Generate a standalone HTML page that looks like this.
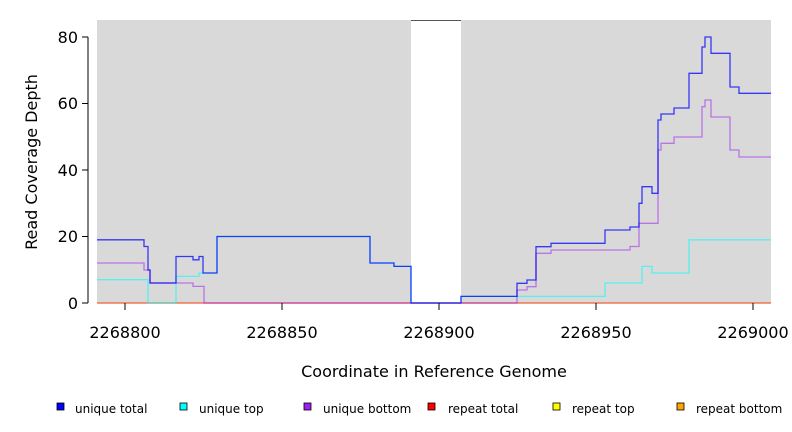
<!DOCTYPE html><html><head><style>body{margin:0;background:#fff}svg{display:block;font-family:"DejaVu Sans","Liberation Sans",sans-serif}</style></head><body>
<svg width="792" height="432" viewBox="0 0 792 432">
<rect x="97" y="20" width="674" height="283" fill="#d9d9d9"/>
<rect x="411" y="21" width="50" height="282" fill="#fff"/>
<line x1="411" y1="20.5" x2="461" y2="20.5" stroke="#555" stroke-width="1"/>
<g fill="none" stroke-width="1.3">
<polyline stroke="#ff8c00" points="97,303 771,303"/>
<polyline stroke="#e05080" stroke-opacity="0.6" points="97,303 771,303"/>
<polyline stroke="#00ffff" stroke-opacity="0.6" points="97,279.7 148,279.7 148,303 176,303 176,276.4 199,276.4 199,273 217,273 217,236.5 370,236.5 370,263 394,263 394,266.4 411,266.4 411,303 461,303 461,296.4 605,296.4 605,283 642,283 642,266.4 652,266.4 652,273 689,273 689,239.8 771,239.8"/>
<polyline stroke="#a020f0" stroke-opacity="0.55" points="97,263 144,263 144,270 150,270 150,283 193,283 193,286.4 204,286.4 204,303 517,303 517,290 527,290 527,286.7 536,286.7 536,253.3 551,253.3 551,250 630,250 630,246.5 639,246.5 639,223.3 658,223.3 658,150 661,150 661,143.3 674,143.3 674,137 702,137 702,106.7 705,106.7 705,100 711,100 711,117 730,117 730,150 739,150 739,157 771,157"/>
<polyline stroke="#0000ff" stroke-opacity="0.75" points="97,239.8 144,239.8 144,246.5 148,246.5 148,270 150,270 150,283 176,283 176,256.5 193,256.5 193,259.8 199,259.8 199,256.5 203,256.5 203,273 217,273 217,236.5 370,236.5 370,263 394,263 394,266.4 411,266.4 411,303 461,303 461,296.4 517,296.4 517,283.3 527,283.3 527,280 536,280 536,246.7 551,246.7 551,243.3 605,243.3 605,230 630,230 630,227 639,227 639,203.3 642,203.3 642,186.7 652,186.7 652,193.3 658,193.3 658,120 661,120 661,114 674,114 674,108 689,108 689,73.3 702,73.3 702,47 705,47 705,37 711,37 711,53.3 730,53.3 730,87 739,87 739,93.3 771,93.3"/>
</g>
<g stroke="#000" stroke-width="1">
<line x1="88" y1="37" x2="88" y2="303"/>
<line x1="82" y1="303" x2="88" y2="303"/><line x1="82" y1="236.5" x2="88" y2="236.5"/><line x1="82" y1="170" x2="88" y2="170"/><line x1="82" y1="103.5" x2="88" y2="103.5"/><line x1="82" y1="37" x2="88" y2="37"/>
<line x1="125" y1="303" x2="753" y2="303" stroke="none"/>
<line x1="125" y1="303" x2="125" y2="310"/><line x1="282" y1="303" x2="282" y2="310"/><line x1="439" y1="303" x2="439" y2="310"/><line x1="596" y1="303" x2="596" y2="310"/><line x1="753" y1="303" x2="753" y2="310"/>
</g>
<g font-size="16" fill="#000">
<g text-anchor="end"><text x="78" y="309">0</text><text x="78" y="242">20</text><text x="78" y="176">40</text><text x="78" y="109">60</text><text x="78" y="43">80</text></g>
<g text-anchor="middle"><text x="125" y="338">2268800</text><text x="282" y="338">2268850</text><text x="439" y="338">2268900</text><text x="596" y="338">2268950</text><text x="753" y="338">2269000</text>
<text x="434" y="377">Coordinate in Reference Genome</text>
<text transform="translate(37,162) rotate(-90)">Read Coverage Depth</text></g>
</g>
<g font-size="12" fill="#000" stroke="#000" stroke-width="0.8">
<rect x="57" y="403" width="7" height="7" fill="#0000ff"/><text x="75" y="413" stroke="none">unique total</text>
<rect x="180" y="403" width="7" height="7" fill="#00ffff"/><text x="199" y="413" stroke="none">unique top</text>
<rect x="304" y="403" width="7" height="7" fill="#a020f0"/><text x="323" y="413" stroke="none">unique bottom</text>
<rect x="428" y="403" width="7" height="7" fill="#ff0000"/><text x="448" y="413" stroke="none">repeat total</text>
<rect x="553" y="403" width="7" height="7" fill="#ffff00"/><text x="572" y="413" stroke="none">repeat top</text>
<rect x="677" y="403" width="7" height="7" fill="#ffa500"/><text x="696" y="413" stroke="none">repeat bottom</text>
</g>
</svg></body></html>
